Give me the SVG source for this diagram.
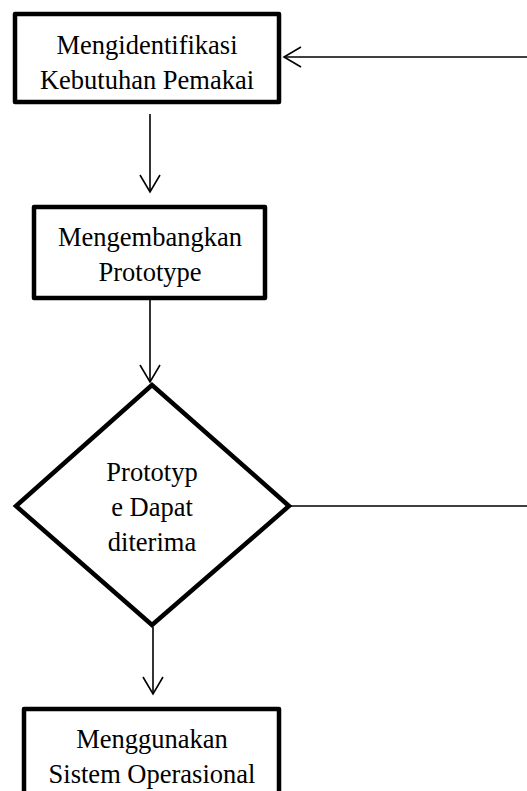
<svg xmlns="http://www.w3.org/2000/svg" width="527" height="791" viewBox="0 0 527 791">
<style>
.box{fill:#fff;stroke:#000;stroke-width:4.5;stroke-linejoin:round}
.t{font-family:"Liberation Serif","Times New Roman",serif;font-size:26.5px;fill:#000;text-anchor:middle}
.c{stroke:#000;stroke-width:1.6;fill:none}
.h{stroke:#000;stroke-width:1.6;fill:none;stroke-linejoin:miter}
</style>
<rect width="527" height="791" fill="#fff"/>
<g id="connectors">
<line class="c" x1="527" y1="57" x2="284" y2="57"/>
<polyline class="h" points="301,47 284,57 301,67"/>
<line class="c" x1="150" y1="114" x2="150" y2="192"/>
<polyline class="h" points="140,175 150,192 160,175"/>
<line class="c" x1="150" y1="300" x2="150" y2="382"/>
<polyline class="h" points="140,365 150,382 160,365"/>
<line class="c" x1="291" y1="506" x2="527" y2="506"/>
<line class="c" x1="153" y1="627" x2="153" y2="694"/>
<polyline class="h" points="143,677 153,694 163,677"/>
</g>
<g id="n1">
<rect class="box" x="15" y="14" width="264" height="88"/>
<text class="t" x="147" y="54">Mengidentifikasi</text>
<text class="t" x="147" y="89">Kebutuhan Pemakai</text>
</g>
<g id="n2">
<rect class="box" x="34" y="207" width="231" height="91"/>
<text class="t" x="150" y="246">Mengembangkan</text>
<text class="t" x="150" y="281">Prototype</text>
</g>
<g id="n3">
<polygon class="box" points="152,385 16,506 152,625 289,506" style="stroke-linejoin:miter"/>
<text class="t" x="152" y="481">Prototyp</text>
<text class="t" x="152" y="516">e Dapat</text>
<text class="t" x="152" y="551">diterima</text>
</g>
<g id="n4">
<rect class="box" x="24" y="709" width="255" height="110"/>
<text class="t" x="152" y="748">Menggunakan</text>
<text class="t" x="152" y="783">Sistem Operasional</text>
</g>
</svg>
